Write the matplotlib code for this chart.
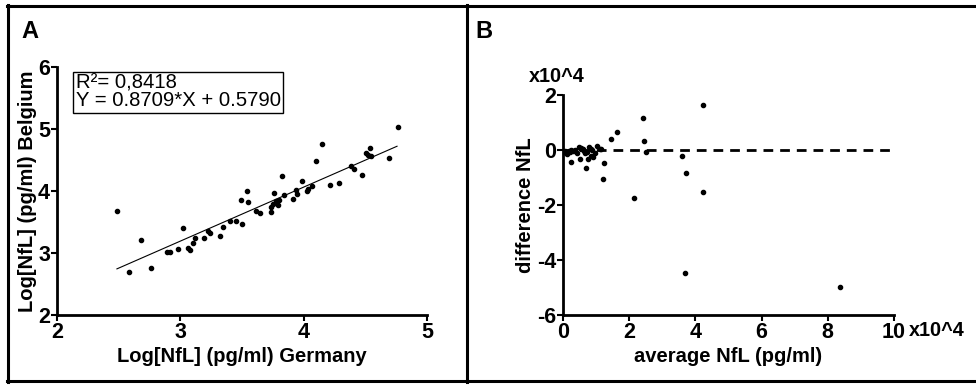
import matplotlib.pyplot as plt
from matplotlib.lines import Line2D

plt.rcParams["font.family"] = ["Liberation Sans", "DejaVu Sans"]

# Panel A: log NfL Germany vs Belgium
germany_log = [2.486, 2.584, 2.681, 2.762, 2.892, 2.919, 2.978, 3.022, 3.062, 3.076,
               3.103, 3.122, 3.189, 3.227, 3.243, 3.319, 3.346, 3.405, 3.449, 3.492,
               3.497, 3.541, 3.546, 3.611, 3.643, 3.735, 3.735, 3.751, 3.762, 3.773,
               3.789, 3.800, 3.827, 3.843, 3.914, 3.941, 3.946, 3.989, 4.027, 4.038,
               4.070, 4.103, 4.151, 4.211, 4.286, 4.384, 4.405, 4.470, 4.508, 4.524,
               4.535, 4.546, 4.692, 4.762]
belgium_log = [3.680, 2.687, 3.208, 2.762, 3.020, 3.010, 3.058, 3.400, 3.074, 3.047,
               3.165, 3.250, 3.246, 3.353, 3.315, 3.278, 3.423, 3.519, 3.509, 3.847,
               3.460, 4.003, 3.830, 3.670, 3.648, 3.654, 3.745, 3.788, 3.970, 3.840,
               3.770, 3.860, 4.244, 3.928, 3.863, 4.024, 3.950, 4.169, 4.003, 4.040,
               4.078, 4.480, 4.765, 4.099, 4.126, 4.405, 4.362, 4.266, 4.615, 4.582,
               4.695, 4.566, 4.529, 5.028]
slope = 0.8709
intercept = 0.5790
fit_x = [2.486, 4.757]

# Panel B: Bland-Altman style (x10^4)
avg_nfl = [0.05, 0.08, 0.10, 0.12, 0.17, 0.20, 0.25, 0.30, 0.35, 0.37, 0.42, 0.47,
           0.53, 0.55, 0.60, 0.64, 0.66, 0.71, 0.78, 0.84, 0.85, 0.88, 0.90, 0.96,
           1.04, 1.11, 1.16, 0.23, 0.50, 0.68, 0.76, 1.24, 1.21, 1.44, 1.64,
           2.16, 2.42, 2.44, 2.50, 3.61, 3.68, 3.73, 4.24, 4.23, 8.37]
diff_nfl = [-0.05, -0.10, -0.06, -0.15, -0.02, -0.08, 0.00, -0.02, -0.05, 0.00, -0.10, 0.12,
            0.02, 0.08, 0.05, -0.02, -0.10, -0.06, 0.10, 0.02, -0.20, 0.00, -0.25, -0.12,
            0.15, 0.02, 0.02, -0.42, -0.34, -0.64, -0.34, -0.48, -1.05, 0.40, 0.64,
            -1.76, 1.16, 0.33, -0.06, -0.23, -4.46, -0.82, 1.62, -1.52, -4.98]

fig = plt.figure(figsize=(9.76, 3.85), dpi=100)

def style_axis(ax):
    for side in ["top", "right"]:
        ax.spines[side].set_visible(False)
    for side in ["left", "bottom"]:
        ax.spines[side].set_linewidth(2)
    ax.tick_params(width=1.5, length=4, labelsize=15.5, pad=1)
    for lab in ax.get_xticklabels() + ax.get_yticklabels():
        lab.set_fontweight("bold")

# ---- A ----
axA = fig.add_axes([57/976, 1-315/385, 370/976, 248/385])
axA.scatter(germany_log, belgium_log, s=9, color="black", zorder=3)
axA.plot(fit_x, [slope*v + intercept for v in fit_x], color="black", lw=0.8)
axA.set_xlim(2, 5)
axA.set_ylim(2, 6)
axA.set_xticks([2, 3, 4, 5])
axA.set_yticks([2, 3, 4, 5, 6])
style_axis(axA)
axA.set_xlabel("Log[NfL] (pg/ml) Germany", fontsize=14.5, fontweight="bold", labelpad=3)
axA.set_ylabel("Log[NfL] (pg/ml) Belgium", fontsize=14.5, fontweight="bold", labelpad=1)
axA.text(0.05, 0.972, "R²= 0,8418\nY = 0.8709*X + 0.5790", transform=axA.transAxes,
         fontsize=14.6, va="top", ha="left", linespacing=0.9,
         bbox=dict(boxstyle="square,pad=0.12", fc="white", ec="black", lw=1))

# ---- B ----
axB = fig.add_axes([563/976, 1-315/385, 331/976, 220/385])
axB.scatter(avg_nfl, diff_nfl, s=9, color="black", zorder=3)
axB.plot([0, 9.9], [0, 0], color="black", lw=2, ls=(0, (3.5, 2.5)))
axB.set_xlim(0, 10)
axB.set_ylim(-6, 2)
axB.set_xticks([0, 2, 4, 6, 8, 10])
axB.set_yticks([-6, -4, -2, 0, 2])
axB.set_yticklabels(["-6", "-4", "-2", "0", "2"])
style_axis(axB)
axB.set_xlabel("average NfL (pg/ml)", fontsize=14.5, fontweight="bold", labelpad=3)
axB.set_ylabel("difference NfL", fontsize=14.5, fontweight="bold", labelpad=1)
fig.text(529/976, 1-76/385, "x10^4", fontsize=14.3, fontweight="bold", va="center", ha="left")
fig.text(909/976, 1-331/385, "x10^4", fontsize=14.3, fontweight="bold", va="center", ha="left")

# panel letters
fig.text(21/976, 1-31/385, "A", fontsize=17, fontweight="bold", va="center", ha="left")
fig.text(475/976, 1-31/385, "B", fontsize=17, fontweight="bold", va="center", ha="left")

# outer frame
def fline(x0, y0, x1, y1):
    fig.add_artist(Line2D([x0/976, x1/976], [1-y0/385, 1-y1/385], color="black", lw=2.2))

fline(7, 5.5, 976, 5.5)
fline(7, 381, 976, 381)
fline(8, 5, 8, 382)
fline(467, 5, 467, 382)

fig.savefig("out.png", dpi=100)
